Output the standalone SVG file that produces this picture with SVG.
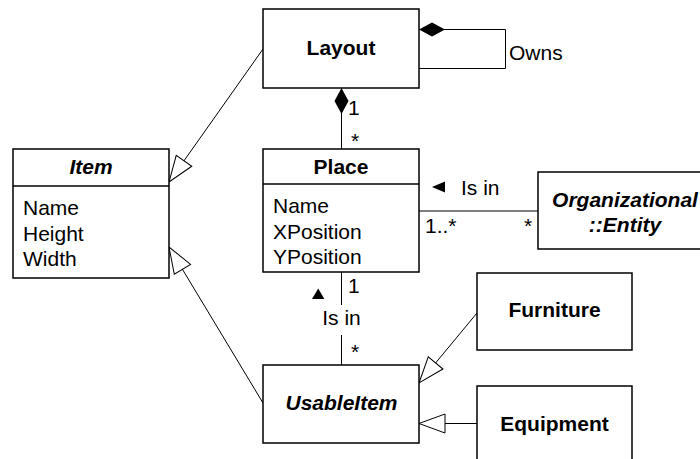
<svg xmlns="http://www.w3.org/2000/svg" width="700" height="459" viewBox="0 0 700 459">
  <style>
    text { font-family: "Liberation Sans", Arial, Helvetica, sans-serif; font-size: 21px; fill: #000; }
    .box { fill: #fff; stroke: #000; stroke-width: 1.5; }
    .title { font-weight: bold; text-anchor: middle; }
    .abstract { font-weight: bold; font-style: italic; text-anchor: middle; }
    .mid { text-anchor: middle; }
    .link { fill: none; stroke: #000; stroke-width: 1; }
    .gen { marker-end: url(#gen); }
    .comp { marker-start: url(#comp); }
  </style>
  <defs>
    <!-- hollow triangle for generalization -->
    <marker id="gen" markerWidth="30" markerHeight="24" refX="27" refY="12" orient="auto" markerUnits="userSpaceOnUse" overflow="visible">
      <path d="M1,2.5 L27,12 L1,21.5 Z" fill="#fff" stroke="#000" stroke-width="1"/>
    </marker>
    <!-- filled diamond for composition -->
    <marker id="comp" markerWidth="28" markerHeight="16" refX="27" refY="8" orient="auto-start-reverse" markerUnits="userSpaceOnUse" overflow="visible">
      <path d="M1,8 L14,1 L27,8 L14,15 Z" fill="#000"/>
    </marker>
  </defs>

  <g id="connectors">
    <path class="link gen" d="M263,49 L169,182"/>
    <path class="link gen" d="M263,403 L169,247"/>
    <path class="link gen" d="M477,313 L419,383"/>
    <path class="link gen" d="M477,423.5 L419,423.5"/>
    <path class="link comp" d="M419,29.5 H505.5 V68.5 H419"/>
    <path class="link comp" d="M341.5,88 V149"/>
    <path class="link" d="M419,211 H538"/>
    <path class="link" d="M341.5,272 V305 M341.5,335 V365"/>
    <text x="509" y="60">Owns</text>
    <text x="348" y="115">1</text>
    <text x="351" y="148">*</text>
    <polygon points="432,187 445,181.5 445,192.5" fill="#000"/>
    <text x="461" y="195">Is in</text>
    <text x="425" y="233">1..*</text>
    <text x="524" y="233">*</text>
    <polygon points="312,299 318.2,288.5 324.4,299" fill="#000"/>
    <text x="348" y="293">1</text>
    <text class="mid" x="341.5" y="325">Is in</text>
    <text x="351" y="359">*</text>
  </g>

  <g id="layout">
    <rect class="box" x="263" y="9" width="156" height="79"/>
    <text class="title" x="341" y="55">Layout</text>
  </g>

  <g id="item">
    <rect class="box" x="13" y="149" width="156" height="129"/>
    <line x1="13" y1="186" x2="169" y2="186" stroke="#000" stroke-width="1.5"/>
    <text class="abstract" x="91" y="174">Item</text>
    <text x="23" y="215">Name</text>
    <text x="23" y="240.5">Height</text>
    <text x="23" y="266">Width</text>
  </g>

  <g id="place">
    <rect class="box" x="263" y="149" width="156" height="123"/>
    <line x1="263" y1="184" x2="419" y2="184" stroke="#000" stroke-width="1.5"/>
    <text class="title" x="341" y="174">Place</text>
    <text x="273" y="213">Name</text>
    <text x="273" y="238.5">XPosition</text>
    <text x="273" y="264">YPosition</text>
  </g>

  <g id="organizational-entity">
    <rect class="box" x="538" y="172" width="176" height="77"/>
    <text class="abstract" x="625" y="207">Organizational</text>
    <text class="abstract" x="625" y="232">::Entity</text>
  </g>

  <g id="usable-item">
    <rect class="box" x="263" y="365" width="156" height="78"/>
    <text class="abstract" x="341.5" y="410">UsableItem</text>
  </g>

  <g id="furniture">
    <rect class="box" x="477" y="273" width="155" height="77"/>
    <text class="title" x="554.5" y="317">Furniture</text>
  </g>

  <g id="equipment">
    <rect class="box" x="477" y="386" width="155" height="80"/>
    <text class="title" x="554.5" y="431">Equipment</text>
  </g>
</svg>
